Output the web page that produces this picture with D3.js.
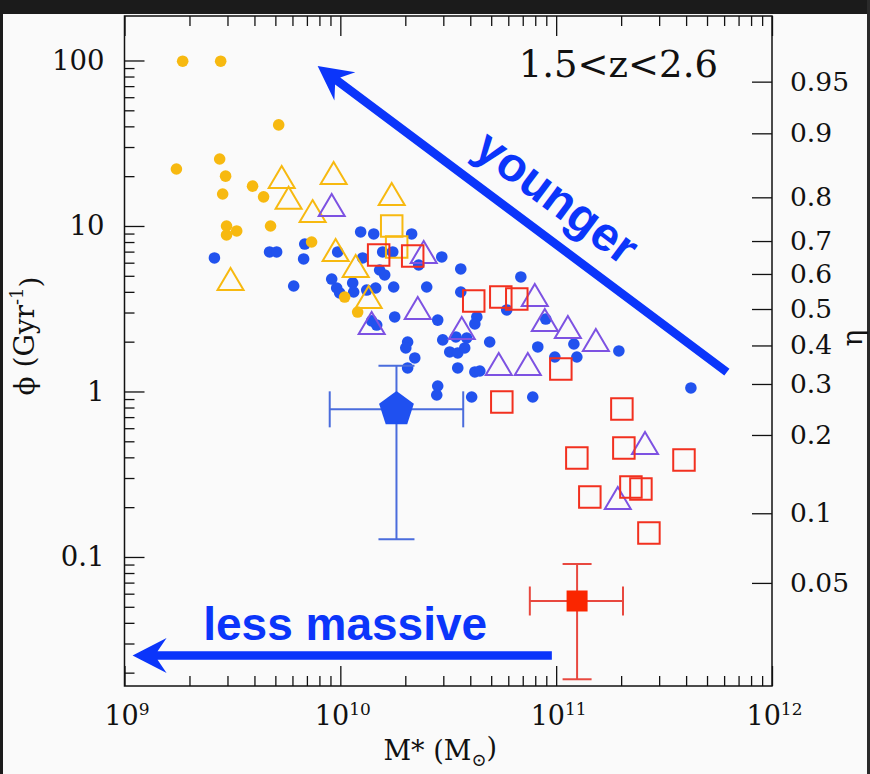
<!DOCTYPE html>
<html><head><meta charset="utf-8">
<script src="https://cdn.jsdelivr.net/npm/d3@7"></script>
<style>
html,body{margin:0;padding:0;background:#fafafa;}
svg{display:block;}
</style>
</head><body>
<svg id="chart" width="870" height="774"></svg>
<script>
// ---------------- DATA ----------------
// stellar mass in units of 1e10 Msun, phi in Gyr^-1
const MASS_UNIT = 1e10;

const blueDotMass = [0.261,0.470,0.507,0.684,0.676,0.608,1.242,1.428,2.14,0.972,
  1.269,1.571,1.749,1.521,1.605,2.307,2.951,3.614,0.912,0.962,
  0.993,1.141,1.153,1.325,1.458,1.767,2.513,3.614,6.86,5.90,
  4.29,4.20,1.786,2.826,8.95,1.397,1.474,2.982,3.213,3.50,
  3.77,3.85,3.43,2.05,2.01,2.213,2.05,4.92,8.22,12.08,
  12.47,9.86,19.52,3.50,4.20,4.43,2.826,2.797,4.06,7.79,42.1];
const blueDotPhi = [6.41,6.97,6.97,7.78,6.32,4.34,9.20,8.95,8.95,6.97,
  6.41,6.97,6.97,5.42,5.06,5.81,6.50,5.50,4.78,4.22,
  3.94,4.53,3.99,4.10,4.22,4.28,4.28,3.99,4.92,3.11,
  2.82,2.56,2.82,2.70,2.74,2.67,2.52,2.05,1.733,1.709,
  1.832,2.105,2.135,1.991,1.832,1.594,1.387,1.991,1.858,1.936,
  1.616,1.616,1.757,1.387,1.312,1.330,1.079,0.952,0.926,0.926,1.050];

const yellowDotMass = [0.186,0.279,0.518,0.276,0.174,0.294,0.392,0.285,0.441,0.297,0.475,0.331,0.297,0.736,1.047,1.203];
const yellowDotPhi  = [99,99,40.8,25.4,22.1,20.0,17.4,15.6,15.0,10.0,10.0,9.33,8.82,8.00,3.72,3.02];

const yellowTriMass = [0.535,0.931,0.576,0.744,1.730,0.951,1.178,0.310,1.353];
const yellowTriPhi  = [19.8,20.9,14.8,12.3,15.6,7.16,5.73,4.78,3.72];

const purpleTriMass = [0.912,2.434,2.284,1.397,3.653,7.96,8.86,11.33,15.27,5.42,7.39,25.8,19.3];
const purpleTriPhi  = [13.4,6.97,3.196,2.594,2.42,3.83,2.70,2.45,2.05,1.466,1.466,0.488,0.227];

const yellowSqMass = [1.730,1.824];
const yellowSqPhi  = [10.0,7.47];

const redSqMass = [1.505,2.164,4.15,5.54,6.57,10.51,5.60,20.16,20.59,12.47,39.1,22.2,24.7,14.32,26.9];
const redSqPhi  = [6.68,6.59,3.52,3.72,3.62,1.367,0.864,0.784,0.456,0.396,0.386,0.265,0.2576,0.2305,0.1396];

// median points with error bars: [mass, massLo, massHi, phi, phiLo, phiHi]
const bluePentagon = [1.82, 0.893, 3.71, 0.78, 0.128, 1.43];
const redSquareErr = [12.5, 7.55, 20.4, 0.0542, 0.01824, 0.0907];

// axis ticks
const xMajorTicks = [1e9,1e10,1e11,1e12];
const xTickExp = ["9","10","11","12"];
const yMajorTicks = [0.1,1,10,100];
const yTickLabels = ["0.1","1","10","100"];
const etaLabels = ["0.95","0.9","0.8","0.7","0.6","0.5","0.4","0.3","0.2","0.1","0.05"];
const etaPhi    = [74.5,36.3,14.9,8.11,5.13,3.15,1.897,1.11,0.546,0.1837,0.0697];

// annotations (data coords)
const zLabel = {text:"1.5<z<2.6", mass:6.71, phi:79.2};
const youngerArrow = {tailMass:61.8, tailPhi:1.31, tipMass:0.785, tipPhi:92.6, label:"younger"};
const massArrow = {tailMass:9.55, tipMass:0.109, phi:0.0254, label:"less massive", labelMass:1.053, labelPhi:0.0315};

// ---------------- CHART ----------------
const svg = d3.select("#chart");
const W = 870, H = 774;
const L = 124.5, R = 772, T = 16, B = 686;

svg.append("rect").attr("x",0).attr("y",0).attr("width",W).attr("height",H).attr("fill","#fafafa");
svg.append("rect").attr("x",0).attr("y",0).attr("width",W).attr("height",14).attr("fill","#1b1b1b");
svg.append("rect").attr("x",0).attr("y",0).attr("width",3).attr("height",H).attr("fill","#1b1b1b");
svg.append("rect").attr("x",867).attr("y",0).attr("width",3).attr("height",H).attr("fill","#2a2a2a");

const x = d3.scaleLog().domain([1e9,1e12]).range([L,R]);
const y = d3.scaleLog().domain([0.01661,185.7]).range([B,T]);

const serif = "'DejaVu Serif', serif";
const sans = "'Liberation Sans', Arial, sans-serif";

function isMajor(v){ return Math.abs(Math.log10(v)-Math.round(Math.log10(v)))<1e-6; }
const xMinor = x.ticks().filter(v=>!isMajor(v));
const yMinor = y.ticks().filter(v=>!isMajor(v) && v>=y.domain()[0] && v<=y.domain()[1]);

function styleAxis(g){
  g.select(".domain").remove();
  g.selectAll(".tick line").attr("stroke","#111").attr("stroke-width",1.3);
}

// bottom
svg.append("g").attr("transform",`translate(0,${B})`)
  .call(d3.axisBottom(x).tickValues(xMinor).tickSize(-10).tickFormat(""))
  .call(styleAxis);
const bx = svg.append("g").attr("transform",`translate(0,${B})`)
  .call(d3.axisBottom(x).tickValues(xMajorTicks).tickSize(-20).tickPadding(20).tickFormat(""))
  .call(styleAxis);
bx.selectAll(".tick text").each(function(d,i){
  const t = d3.select(this).attr("font-family",serif).attr("font-size",27).attr("fill","#111")
     .attr("dy","0.71em").attr("dx","2");
  t.text(null);
  t.append("tspan").text("10");
  t.append("tspan").attr("font-size",17).attr("dy","-0.6em").text(xTickExp[i]);
});
// top
svg.append("g").attr("transform",`translate(0,${T})`)
  .call(d3.axisTop(x).tickValues(xMinor).tickSize(-10).tickFormat(""))
  .call(styleAxis);
svg.append("g").attr("transform",`translate(0,${T})`)
  .call(d3.axisTop(x).tickValues(xMajorTicks).tickSize(-20).tickFormat(""))
  .call(styleAxis);
// left
svg.append("g").attr("transform",`translate(${L},0)`)
  .call(d3.axisLeft(y).tickValues(yMinor).tickSize(-10).tickFormat(""))
  .call(styleAxis);
const ly = svg.append("g").attr("transform",`translate(${L},0)`)
  .call(d3.axisLeft(y).tickValues(yMajorTicks).tickSize(-20).tickPadding(20).tickFormat((d,i)=>yTickLabels[i]))
  .call(styleAxis);
ly.selectAll(".tick text").attr("font-family",serif).attr("font-size",27.5).attr("fill","#111");
// right (eta)
const ry = svg.append("g").attr("transform",`translate(${R},0)`)
  .call(d3.axisRight(y).tickValues(etaPhi).tickSize(-20).tickPadding(18).tickFormat((d,i)=>etaLabels[i]))
  .call(styleAxis);
ry.selectAll(".tick text").attr("font-family",serif).attr("font-size",26.5).attr("fill","#111");

// frame
svg.append("rect").attr("x",L).attr("y",T).attr("width",R-L).attr("height",B-T)
  .attr("fill","none").attr("stroke","#111").attr("stroke-width",1.5);

// axis titles
const xt = svg.append("text").attr("x",(L+R)/2-8).attr("y",760).attr("text-anchor","middle")
  .attr("font-family",serif).attr("font-size",27).attr("fill","#111");
xt.append("tspan").text("M*  (M");
xt.append("tspan").attr("font-size",18).attr("dy","0.35em").text("\u2299");
xt.append("tspan").attr("dy","-0.35em").text(")");

const yt = svg.append("text").attr("transform",`translate(34,336) rotate(-90)`)
  .attr("text-anchor","middle").attr("font-family",serif).attr("font-size",28).attr("fill","#111");
yt.append("tspan").text("\u03d5   (Gyr");
yt.append("tspan").attr("font-size",18).attr("dy","-0.6em").text("-1");
yt.append("tspan").attr("dy","0.6em").text(")");

svg.append("text").attr("transform",`translate(862,338) rotate(-90)`)
  .attr("text-anchor","middle").attr("font-family",serif).attr("font-size",28).attr("fill","#111")
  .text("\u03b7");

// z label
svg.append("text").attr("x",x(zLabel.mass*MASS_UNIT)).attr("y",y(zLabel.phi))
  .attr("font-family",serif).attr("font-size",37).attr("fill","#111").text(zLabel.text);

// ---------------- MARKS ----------------
const plot = svg.append("g");
const px = m => x(m*MASS_UNIT);

const blueCol = "#2152ee", yellowCol = "#f7b910", purpleCol = "#7d52e2", redCol = "#f2301f";

plot.selectAll(".blue").data(blueDotMass).join("circle")
  .attr("cx",(d)=>px(d)).attr("cy",(d,i)=>y(blueDotPhi[i])).attr("r",5.8).attr("fill",blueCol);
plot.selectAll(".yel").data(yellowDotMass).join("circle")
  .attr("cx",(d)=>px(d)).attr("cy",(d,i)=>y(yellowDotPhi[i])).attr("r",5.8).attr("fill",yellowCol);

const triW = 26, triH = 22;
const triPath = `M0,${-triH/2}L${triW/2},${triH/2}L${-triW/2},${triH/2}Z`;
const sq = 21.5;
const sqPath = `M${-sq/2},${-sq/2}h${sq}v${sq}h${-sq}Z`;

function openMarks(mass, phi, path, col){
  plot.append("g").selectAll("path").data(mass).join("path")
    .attr("d",path)
    .attr("transform",(d,i)=>`translate(${px(d)},${y(phi[i])})`)
    .attr("fill","none").attr("stroke",col).attr("stroke-width",2);
}
openMarks(yellowTriMass, yellowTriPhi, triPath, yellowCol);
openMarks(purpleTriMass, purpleTriPhi, triPath, purpleCol);
openMarks(yellowSqMass, yellowSqPhi, sqPath, yellowCol);
openMarks(redSqMass, redSqPhi, sqPath, redCol);

// error bars
function errBar(e, col, cap){
  const g = plot.append("g").attr("stroke",col).attr("stroke-width",2).attr("fill","none");
  const cx = px(e[0]), cy = y(e[3]);
  g.append("line").attr("x1",px(e[1])).attr("x2",px(e[2])).attr("y1",cy).attr("y2",cy);
  g.append("line").attr("x1",cx).attr("x2",cx).attr("y1",y(e[4])).attr("y2",y(e[5]));
  [e[1],e[2]].forEach(m=>g.append("line").attr("x1",px(m)).attr("x2",px(m)).attr("y1",cy-cap).attr("y2",cy+cap));
  [e[4],e[5]].forEach(p=>g.append("line").attr("x1",cx-cap).attr("x2",cx+cap).attr("y1",y(p)).attr("y2",y(p)));
}
errBar(bluePentagon, "#4a6cdc", 18);
errBar(redSquareErr, "#e8483f", 14.5);

const pentR = 18.3;
const pent = d3.range(5).map(k=>{const a=(-90+72*k)*Math.PI/180; return [pentR*Math.cos(a), pentR*Math.sin(a)];});
plot.append("path").attr("d","M"+pent.map(p=>p.join(",")).join("L")+"Z")
  .attr("transform",`translate(${px(bluePentagon[0])},${y(bluePentagon[3])})`)
  .attr("fill","#1f50f0");
plot.append("rect").attr("x",px(redSquareErr[0])-10.5).attr("y",y(redSquareErr[3])-10.5)
  .attr("width",21).attr("height",21).attr("fill","#fa2600");

// ---------------- ARROWS ----------------
const arrowCol = "#0b35fa";
function arrow(x1,y1,x2,y2){
  const dx=x1-x2, dy=y1-y2, len=Math.hypot(dx,dy);
  const ux=dx/len, uy=dy/len, nx=-uy, ny=ux;
  const hw=4.3, hl=34, hh=17.5, notch=25;
  const P=(a,b)=>[x2+ux*a+nx*b, y2+uy*a+ny*b];
  const pts=[[x2,y2],P(hl,hh),P(notch,hw),[x1+nx*hw,y1+ny*hw],[x1-nx*hw,y1-ny*hw],P(notch,-hw),P(hl,-hh)];
  svg.append("path").attr("d","M"+pts.map(p=>p.join(",")).join("L")+"Z").attr("fill",arrowCol);
  return {ux,uy,nx,ny};
}
const ax1 = px(youngerArrow.tailMass), ay1 = y(youngerArrow.tailPhi);
const ax2 = px(youngerArrow.tipMass), ay2 = y(youngerArrow.tipPhi);
const ya = arrow(ax1,ay1,ax2,ay2);
const ang = Math.atan2(ay1-ay2, ax1-ax2)*180/Math.PI;
const along = 270, off = -22;
const tx = ax2 + ya.ux*along + ya.nx*off, ty = ay2 + ya.uy*along + ya.ny*off;
svg.append("text").attr("transform",`translate(${tx},${ty}) rotate(${ang})`)
  .attr("text-anchor","middle").attr("font-family",sans).attr("font-weight","bold")
  .attr("font-size",48).attr("fill",arrowCol).text(youngerArrow.label);

arrow(px(massArrow.tailMass), y(massArrow.phi), px(massArrow.tipMass), y(massArrow.phi));
svg.append("text").attr("x",px(massArrow.labelMass)).attr("y",y(massArrow.labelPhi))
  .attr("text-anchor","middle").attr("font-family",sans).attr("font-weight","bold")
  .attr("font-size",46).attr("fill",arrowCol).text(massArrow.label);
</script>
</body></html>
